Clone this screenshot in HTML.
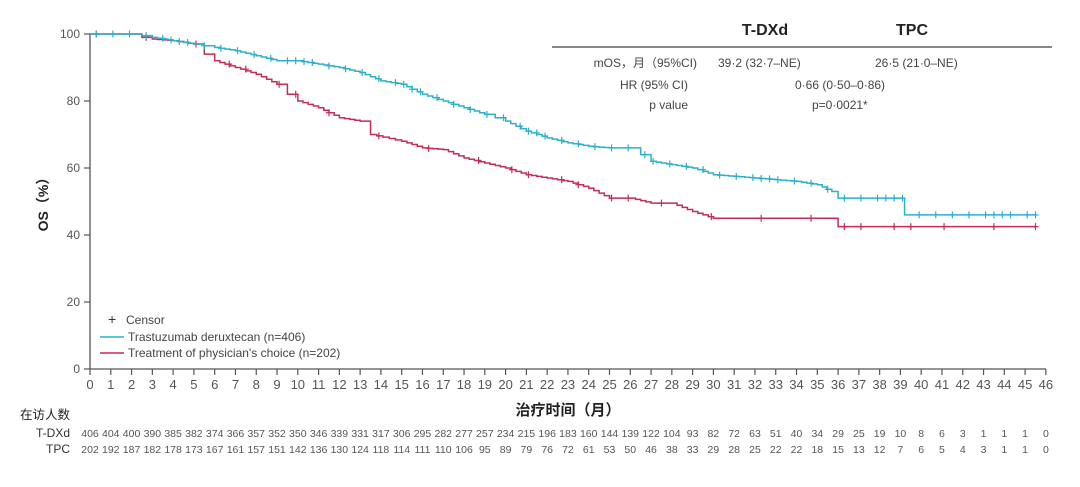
<!DOCTYPE html>
<html><head><meta charset="utf-8">
<style>
body{margin:0;background:#fff;width:1080px;height:482px;overflow:hidden}
svg text{font-family:"Liberation Sans","Noto Sans CJK SC",sans-serif}
</style></head><body>
<svg id="s" width="1080" height="482" xmlns="http://www.w3.org/2000/svg">
<g stroke="#555" stroke-width="1.3" fill="none">
<line x1="90" y1="34" x2="90" y2="369"/>
<line x1="90" y1="369" x2="1046" y2="369"/>
<line x1="552" y1="47" x2="1052" y2="47" stroke="#888" stroke-width="2"/>
</g>
<g id="ax" font-size="12" fill="#555"></g>
<text x="48" y="201" font-size="14" font-weight="bold" fill="#222" text-anchor="middle" transform="rotate(-90 48 201)">OS（%）</text>
<text x="568" y="415" font-size="15" font-weight="bold" fill="#222" text-anchor="middle">治疗时间（月）</text>
<g font-size="12" fill="#333">
<text x="20" y="419" font-size="12.5" fill="#222">在访人数</text>
<text x="70" y="437" text-anchor="end" fill="#333">T-DXd</text>
<text x="70" y="453" text-anchor="end" fill="#333">TPC</text>
</g>
<g font-size="16" font-weight="bold" fill="#222" text-anchor="middle">
<text x="765" y="35">T-DXd</text><text x="912" y="35">TPC</text></g>
<g font-size="12" fill="#444">
<text x="697" y="67" text-anchor="end">mOS，月（95%CI)</text>
<text x="718" y="67">39·2 (32·7–NE)</text>
<text x="875" y="67">26·5 (21·0–NE)</text>
<text x="688" y="89" text-anchor="end">HR (95% CI)</text>
<text x="795" y="89">0·66 (0·50–0·86)</text>
<text x="688" y="109" text-anchor="end">p value</text>
<text x="812" y="109">p=0·0021*</text>
</g>
<g font-size="12" fill="#444">
<text x="108" y="324" fill="#333" font-size="14">+</text><text x="126" y="324">Censor</text>
<line x1="100" y1="337" x2="124" y2="337" stroke="#2cb0cc" stroke-width="1.5"/><text x="128" y="341">Trastuzumab deruxtecan (n=406)</text>
<line x1="100" y1="353" x2="124" y2="353" stroke="#c42d55" stroke-width="1.5"/><text x="128" y="357">Treatment of physician's choice (n=202)</text>
</g>
<g id="cv"></g>
</svg>
<script>
const X=m=>90+m*20.78, Y=v=>369-v*3.35;
const ns="http://www.w3.org/2000/svg", ax=document.getElementById('ax'), cv=document.getElementById('cv');
function el(t,a,p,txt){const e=document.createElementNS(ns,t);for(const k in a)e.setAttribute(k,a[k]);if(txt!=null)e.textContent=txt;p.appendChild(e);return e;}
for(let v=0;v<=100;v+=20){el('line',{x1:84,x2:90,y1:Y(v),y2:Y(v),stroke:'#555','stroke-width':1.2},ax);el('text',{x:80,y:Y(v)+4,'text-anchor':'end'},ax,v);}
const d1=[406,404,400,390,385,382,374,366,357,352,350,346,339,331,317,306,295,282,277,257,234,215,196,183,160,144,139,122,104,93,82,72,63,51,40,34,29,25,19,10,8,6,3,1,1,1,0];
const d2=[202,192,187,182,178,173,167,161,157,151,142,136,130,124,118,114,111,110,106,95,89,79,76,72,61,53,50,46,38,33,29,28,25,22,22,18,15,13,12,7,6,5,4,3,1,1,0];
for(let m=0;m<=46;m++){el('line',{x1:X(m),x2:X(m),y1:369,y2:375,stroke:'#555','stroke-width':1.2},ax);
el('text',{x:X(m),y:389,'text-anchor':'middle','font-size':13},ax,m);
el('text',{x:X(m),y:437,'text-anchor':'middle','font-size':10.5},ax,d1[m]);
el('text',{x:X(m),y:453,'text-anchor':'middle','font-size':10.5},ax,d2[m]);}
const A=[[0,100],[2,100],[2.5,99.5],[3,99],[4,98],[5,97],[5.5,96.5],[6,96],[7,95],[8,93.5],[9,92],[10,92],[11,91],[12,90],[13,88.5],[14,86],[15,85],[16,82],[17,80],[18,78],[19,76],[19.5,75],[20,74],[21,71],[22,69],[23,67.5],[24,66.5],[25,66],[26,66],[26.5,64],[27,62],[28,61],[29,60],[30,58],[31,57.5],[32,57],[33,56.5],[34,56],[35,55],[35.7,53],[36,51],[39,51],[39.2,46],[45.5,46]];
const B=[[0,100],[2,100],[2.5,99],[3,98.5],[4,98],[5,97],[5.5,94],[6,92],[7,90],[8,88],[9,85],[9.5,82],[10,80],[11,78],[12,75],[13,74],[13.5,70],[15,68],[16,66],[17,65.5],[18,63],[19,61.5],[20,60],[21,58],[22,57],[23,56],[24,54],[25,51],[26,51],[27,49.5],[28,49.5],[29,47],[30,45],[35.5,45],[36,42.5],[45.5,42.5]];
function refine(P){const R=[P[0]];for(let i=1;i<P.length;i++){const [m0,v0]=P[i-1],[m1,v1]=P[i];if(v0===v1||m1-m0<0.6){R.push(P[i]);continue;}const n=Math.ceil((m1-m0)/0.3);for(let k=1;k<=n;k++)R.push([m0+(m1-m0)*k/n,v0+(v1-v0)*k/n]);}return R;}
function draw(P0,c,cens){const P=refine(P0);let d='M'+X(P[0][0])+','+Y(P[0][1]);for(let i=1;i<P.length;i++)d+='H'+X(P[i][0])+'V'+Y(P[i][1]);
el('path',{d:d,fill:'none',stroke:c,'stroke-width':1.5},cv);
function val(m){let v=100;for(const p of P)if(p[0]<=m)v=p[1];return v;}
for(const m of cens){const x=X(m),y=Y(val(m));el('path',{d:`M${x-3},${y}H${x+3}M${x},${y-3.5}V${y+3.5}`,stroke:c,'stroke-width':1.2},cv);}}
let c1=[],c2=[];for(let m=0.3;m<45.6;m+=0.4){if(Math.sin(m*7.3)>-0.3)c1.push(m);}
for(let m=0.3;m<45.6;m+=0.8){if(Math.sin(m*5.1)>0.1)c2.push(m);}
c1.push(45.5);c2.push(45.5);
draw(B,'#c42d55',c2);draw(A,'#2cb0cc',c1);
</script>
</body></html>
